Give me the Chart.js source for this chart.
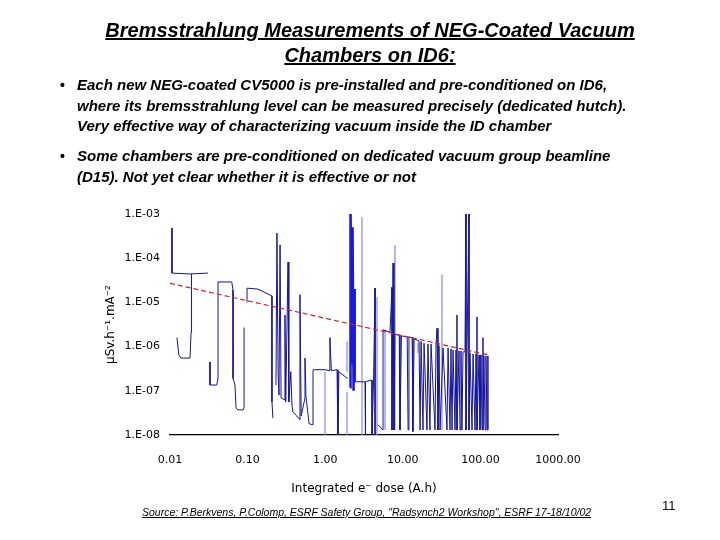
<!DOCTYPE html>
<html>
<head>
<meta charset="utf-8">
<script src="https://cdn.jsdelivr.net/npm/chart.js@4/dist/chart.umd.min.js"></script>
<style>
  body { margin: 0; background: #fff; }
  #wrap { position: relative; width: 720px; height: 540px; overflow: hidden; font-family: "Liberation Sans", Arial, sans-serif; color: #000; }
  #c { position: absolute; left: 0; top: 0; }
  .title { position: absolute; left: 70px; width: 600px; top: 18px; text-align: center; font-weight: bold; font-style: italic; font-size: 20px; line-height: 25px; text-decoration: underline; }
  .bul { position: absolute; left: 77px; font-weight: bold; font-style: italic; font-size: 15px; line-height: 20.5px; white-space: nowrap; }
  .dot { position: absolute; left: 60px; font-size: 14px; font-weight: bold; line-height: 20.5px; }
  .src { position: absolute; left: 142px; top: 506px; font-style: italic; font-size: 10.5px; text-decoration: underline; white-space: nowrap; }
  .pg { position: absolute; left: 662px; top: 498px; font-size: 13px; }
</style>
</head>
<body>
<div id="wrap">
  <canvas id="c" width="720" height="540"></canvas>
  <div class="title">Bremsstrahlung Measurements of NEG-Coated Vacuum<br>Chambers on ID6:</div>
  <div class="dot" style="top:75px">•</div>
  <div class="bul" style="top:75px">Each new NEG-coated CV5000 is pre-installed and pre-conditioned on ID6,<br>where its bremsstrahlung level can be measured precisely (dedicated hutch).<br>Very effective way of characterizing vacuum inside the ID chamber</div>
  <div class="dot" style="top:146px">•</div>
  <div class="bul" style="top:146px">Some chambers are pre-conditioned on dedicated vacuum group beamline<br>(D15). Not yet clear whether it is effective or not</div>
  <div class="src">Source: P.Berkvens, P.Colomp, ESRF Safety Group, "Radsynch2 Workshop", ESRF 17-18/10/02</div>
  <div class="pg">11</div>
</div>
<script>
// axis ticks
var xTicks = [0.01, 0.1, 1, 10, 100, 1000];
var yTicks = [1e-8, 1e-7, 1e-6, 1e-5, 1e-4, 1e-3];

// fitted trend (red dashed)
var fitDose = [0.01, 125];
var fitRate = [2.7e-5, 6.5e-7];

// main trace (dark blue), null = break between runs
var mainDose = [
  0.0106, 0.0106, 0.0181, 0.0309, null,
  0.0123, 0.013, 0.0138, 0.0181, 0.0187, 0.0187, 0.0192, null,
  0.0328, 0.0328, 0.040, 0.0416, 0.0416, 0.0416, 0.0625, 0.0649, 0.0649,
  0.0688, 0.071, 0.075, 0.0873, 0.090, 0.090, null,
  0.0983, 0.0983, 0.136, 0.206, 0.206, 0.212, null,
  0.232, 0.239, 0.247, 0.254, 0.262, 0.27, 0.303, 0.303, 0.31, 0.332, 0.34, 0.36,
  0.373, 0.383, 0.43, 0.473, 0.473, 0.49, 0.549, 0.549, 0.565, 0.62, 0.696, 0.696,
  0.70, 0.993, 1.15, 1.15, 1.2, 1.42, 1.46, 1.5, 1.8, 1.95, null,
  2.42, 3.26, 3.26, 3.35, 4.01, 4.01, 4.2, 4.39, 4.39, null,
  4.8, 5.56, 5.56, 6.84, 7.26, 7.26, 7.48, 7.7, 7.93, 9.0, 9.2, 9.6, 11.4, 11.7,
  12.0, 13.2, 13.5, 14.0, 16.2, 16.7, 17.2, 18.2, 18.8, 20.5, 21.1, 22.4, 23.1,
  26.0, 26.8, 27.6, 28.4, 29.3, 30.2, 33.0, 37.1, 38.3, 40.6, 41.8, 43.1, 44.4,
  47.1, 48.5, 49.9, 49.9, 53, 54.6, 56.2, 57.9, 59.7, 63.3, 65.2, 65.2, 67.2,
  71.3, 71.3, 73.4, 78, 80.4, 85.2, 87.8, 90.4, 90.4, 96, 98.8, 101.8, 105, 108,
  108, 111, 115, 118, 122, 125, 125
];
var mainRate = [
  4.8e-4, 4.6e-5, 4.4e-5, 4.6e-5, null,
  1.6e-6, 6.5e-7, 5.5e-7, 5.5e-7, 2.1e-6, 1.9e-5, 4.4e-5, null,
  4.5e-7, 1.35e-7, 1.35e-7, 1.9e-7, 2.6e-6, 2.9e-5, 2.9e-5, 1.9e-5, 1.9e-7,
  1.35e-7, 4.1e-8, 3.7e-8, 3.7e-8, 4.1e-8, 2.7e-6, null,
  1.0e-5, 2.1e-5, 2.0e-5, 1.4e-5, 5.6e-8, 2.4e-8, null,
  1.35e-7, 3.7e-4, 2.7e-7, 8.0e-8, 2.0e-4, 6.9e-8, 6.2e-8, 5.2e-6, 5.6e-8, 8.2e-5, 5.6e-8, 2.7e-7,
  4.8e-8, 3.3e-8, 2.7e-8, 2.2e-8, 1.5e-5, 2.7e-8, 6.9e-8, 5.5e-7, 7.5e-8, 1.8e-8, 1.7e-8, 2.7e-7,
  3.0e-7, 3.0e-7, 2.85e-7, 1.6e-6, 2.85e-7, 3.0e-7, 8e-9, 2.7e-7, 2.1e-7, 1.9e-7, null,
  1.6e-7, 1.6e-7, 8e-9, 1.6e-7, 1.75e-7, 8e-9, 1.75e-7, 2.1e-5, 8e-9, null,
  1.7e-8, 1.3e-8, 2.4e-6, 2.1e-6, 2.2e-5, 1.3e-8, 7.8e-5, 1.3e-8, 1.9e-6, 1.8e-6, 1.3e-8, 1.75e-6, 1.65e-6, 1.3e-8,
  1.65e-6, 1.6e-6, 1.2e-8, 1.5e-6, 1.35e-6, 1.3e-8, 1.3e-6, 1.3e-8, 1.2e-6, 1.3e-8, 1.15e-6, 1.3e-8, 1.15e-6,
  1.3e-8, 1.1e-6, 2.6e-6, 1.3e-8, 1.05e-6, 1.3e-8, 9.3e-7, 1.3e-8, 9.3e-7, 1.3e-8, 8.9e-7, 1.3e-8, 8.4e-7,
  1.3e-8, 8.4e-7, 5.2e-6, 1.3e-8, 8e-7, 1.3e-8, 8e-7, 1.3e-8, 7.6e-7, 7.6e-7, 2e-3, 1.3e-8, 7.2e-7,
  2e-3, 1.3e-8, 7.2e-7, 1.3e-8, 6.8e-7, 1.3e-8, 6.8e-7, 4.7e-6, 1.3e-8, 6.5e-7, 1.3e-8, 6.5e-7, 1.3e-8, 1.6e-6,
  1.3e-8, 6.2e-7, 1.3e-8, 6.2e-7, 1.3e-8, 6.2e-7, 1.3e-8
];

// faint runs (light blue)
var lightDose = [0.993, 0.993, null, 1.91, 1.91, null, 1.91, 1.91, null, 2.98, 2.98, null,
  4.65, 4.65, null, 5.9, 5.9, null, 7.93, 7.93, null, 15.7, 15.7, null, 32.0, 32.0];
var lightRate = [2.7e-7, 8e-9, null, 1.3e-6, 2.7e-7, null, 9.4e-8, 8e-9, null, 8.5e-4, 8e-9, null,
  1.3e-5, 8e-9, null, 2.4e-6, 1.3e-8, null, 2.0e-4, 1.3e-8, null, 1.2e-6, 7.2e-7, null, 4.2e-5, 1.3e-8];

// heavy burst near 2 A.h (bright blue)
var burstDose = [2.09, 2.12, 2.2, 2.25, 2.32, 2.36, 2.4];
var burstRate = [1.2e-7, 1.5e-3, 4e-7, 5e-4, 1e-7, 2e-5, 1.6e-7];

function pts(xs, ys) {
  return xs.map(function(v, i) { return { x: v, y: ys[i] }; });
}

var tickFont = { family: "DejaVu Sans", size: 11 };

new Chart(document.getElementById("c"), {
  type: "line",
  data: {
    datasets: [
      { data: pts(fitDose, fitRate), borderColor: "#c82828", borderWidth: 1.2, borderDash: [5, 3] },
      { data: pts(mainDose, mainRate), borderColor: "#14149c", borderWidth: 1 },
      { data: pts(burstDose, burstRate), borderColor: "#1818e0", borderWidth: 2.5 },
      { data: pts(lightDose, lightRate), borderColor: "#8a8ae6", borderWidth: 1.2 }
    ]
  },
  options: {
    responsive: false,
    animation: false,
    events: [],
    elements: { point: { radius: 0 }, line: { tension: 0 } },
    layout: { padding: { left: 100, right: 162, top: 214, bottom: 40 } },
    plugins: { legend: { display: false }, tooltip: { enabled: false } },
    scales: {
      x: {
        type: "logarithmic",
        min: 0.01, max: 1000,
        afterBuildTicks: function(ax) { ax.ticks = xTicks.map(function(v) { return { value: v }; }); },
        afterFit: function(ax) { ax.height = 65; },
        grid: { display: false, drawTicks: false },
        border: { display: true, color: "#000", width: 1.2 },
        ticks: { padding: 19, color: "#000", font: tickFont, maxRotation: 0, autoSkip: false,
          callback: function(v) { return Number(v).toFixed(2); } },
        title: { display: true, text: "Integrated e\u207B dose (A.h)", color: "#000", font: { family: "DejaVu Sans", size: 12 } }
      },
      y: {
        type: "logarithmic",
        min: 1e-8, max: 1e-3,
        afterBuildTicks: function(ax) { ax.ticks = yTicks.map(function(v) { return { value: v }; }); },
        afterFit: function(ax) { ax.width = 70; },
        grid: { display: false, drawTicks: false },
        border: { display: false },
        ticks: { padding: 10, color: "#000", font: tickFont,
          callback: function(v) { var e = Math.round(Math.log10(v)); return "1.E-" + ("0" + (-e)).slice(-2); } },
        title: { display: true, text: "\u00B5Sv.h\u207B\u00B9.mA\u207B\u00B2", color: "#000", font: { family: "DejaVu Sans", size: 12 } }
      }
    }
  }
});
</script>
</body>
</html>
